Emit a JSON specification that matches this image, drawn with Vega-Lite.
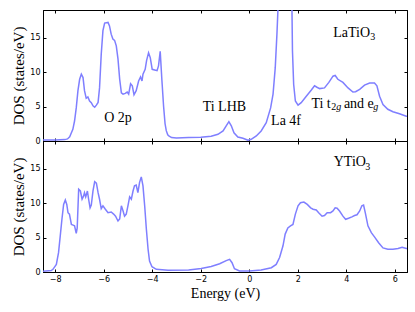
{
  "$schema": "https://vega.github.io/schema/vega-lite/v6.json",
  "background": "white",
  "padding": {"left": 11, "top": 9, "right": 9, "bottom": 5},
  "datasets": {
    "la": [
      {"E": -8.5, "DOS": 0.15}, {"E": -8.0, "DOS": 0.15}, {"E": -7.6, "DOS": 0.2}, {"E": -7.49, "DOS": 0.3},
      {"E": -7.40, "DOS": 0.6}, {"E": -7.27, "DOS": 1.7}, {"E": -7.20, "DOS": 2.9}, {"E": -7.13, "DOS": 4.8},
      {"E": -7.06, "DOS": 7.3}, {"E": -6.99, "DOS": 8.95}, {"E": -6.92, "DOS": 9.7}, {"E": -6.85, "DOS": 9.2},
      {"E": -6.79, "DOS": 7.3}, {"E": -6.72, "DOS": 6.2}, {"E": -6.65, "DOS": 6.4}, {"E": -6.58, "DOS": 5.8},
      {"E": -6.51, "DOS": 5.56}, {"E": -6.44, "DOS": 5.1}, {"E": -6.37, "DOS": 4.9}, {"E": -6.30, "DOS": 5.2},
      {"E": -6.23, "DOS": 5.6}, {"E": -6.17, "DOS": 7.7}, {"E": -6.10, "DOS": 12.6}, {"E": -6.03, "DOS": 16.0},
      {"E": -5.96, "DOS": 17.1}, {"E": -5.82, "DOS": 17.2}, {"E": -5.76, "DOS": 16.7}, {"E": -5.69, "DOS": 15.5},
      {"E": -5.62, "DOS": 14.8}, {"E": -5.55, "DOS": 14.6}, {"E": -5.48, "DOS": 13.8}, {"E": -5.41, "DOS": 11.9},
      {"E": -5.34, "DOS": 8.95}, {"E": -5.27, "DOS": 7.0}, {"E": -5.20, "DOS": 6.8}, {"E": -5.11, "DOS": 6.9},
      {"E": -5.03, "DOS": 7.1}, {"E": -4.97, "DOS": 6.8}, {"E": -4.89, "DOS": 8.3}, {"E": -4.82, "DOS": 8.0},
      {"E": -4.75, "DOS": 6.7}, {"E": -4.66, "DOS": 7.3}, {"E": -4.56, "DOS": 8.7}, {"E": -4.48, "DOS": 9.3},
      {"E": -4.42, "DOS": 8.7}, {"E": -4.38, "DOS": 9.7}, {"E": -4.29, "DOS": 10.4}, {"E": -4.23, "DOS": 11.7},
      {"E": -4.15, "DOS": 12.8}, {"E": -4.08, "DOS": 12.1}, {"E": -4.00, "DOS": 10.4}, {"E": -3.90, "DOS": 10.3},
      {"E": -3.80, "DOS": 10.2}, {"E": -3.74, "DOS": 10.9}, {"E": -3.67, "DOS": 13.0}, {"E": -3.60, "DOS": 8.8},
      {"E": -3.53, "DOS": 5.0}, {"E": -3.47, "DOS": 2.5}, {"E": -3.42, "DOS": 1.5}, {"E": -3.36, "DOS": 0.9},
      {"E": -3.30, "DOS": 0.7}, {"E": -3.20, "DOS": 0.5}, {"E": -3.0, "DOS": 0.45}, {"E": -2.5, "DOS": 0.5},
      {"E": -2.0, "DOS": 0.55}, {"E": -1.57, "DOS": 0.7}, {"E": -1.29, "DOS": 0.97}, {"E": -1.08, "DOS": 1.45},
      {"E": -0.95, "DOS": 2.2}, {"E": -0.84, "DOS": 2.8}, {"E": -0.74, "DOS": 2.2}, {"E": -0.63, "DOS": 1.2},
      {"E": -0.47, "DOS": 0.58}, {"E": -0.26, "DOS": 0.39}, {"E": -0.05, "DOS": 0.1}, {"E": 0.08, "DOS": 0.25},
      {"E": 0.29, "DOS": 0.73}, {"E": 0.49, "DOS": 1.45}, {"E": 0.70, "DOS": 2.66}, {"E": 0.88, "DOS": 4.8},
      {"E": 0.98, "DOS": 6.8}, {"E": 1.07, "DOS": 10.6}, {"E": 1.14, "DOS": 15.5}, {"E": 1.18, "DOS": 18.9},
      {"E": 1.24, "DOS": 26}, {"E": 1.35, "DOS": 38}, {"E": 1.47, "DOS": 42}, {"E": 1.60, "DOS": 38},
      {"E": 1.70, "DOS": 28}, {"E": 1.76, "DOS": 19}, {"E": 1.78, "DOS": 13.1}, {"E": 1.83, "DOS": 8.2},
      {"E": 1.90, "DOS": 5.8}, {"E": 2.01, "DOS": 5.2}, {"E": 2.14, "DOS": 5.56}, {"E": 2.35, "DOS": 6.5},
      {"E": 2.55, "DOS": 7.35}, {"E": 2.69, "DOS": 8.0}, {"E": 2.79, "DOS": 7.8}, {"E": 2.90, "DOS": 7.6},
      {"E": 3.10, "DOS": 7.7}, {"E": 3.28, "DOS": 8.5}, {"E": 3.45, "DOS": 9.4}, {"E": 3.54, "DOS": 9.5},
      {"E": 3.65, "DOS": 8.95}, {"E": 3.86, "DOS": 8.5}, {"E": 4.07, "DOS": 7.7}, {"E": 4.27, "DOS": 7.1},
      {"E": 4.38, "DOS": 7.15}, {"E": 4.55, "DOS": 7.5}, {"E": 4.75, "DOS": 8.1}, {"E": 4.96, "DOS": 8.4},
      {"E": 5.16, "DOS": 8.4}, {"E": 5.26, "DOS": 8.0}, {"E": 5.37, "DOS": 6.5}, {"E": 5.51, "DOS": 5.3},
      {"E": 5.71, "DOS": 4.6}, {"E": 5.92, "DOS": 4.25}, {"E": 6.19, "DOS": 3.96}, {"E": 6.47, "DOS": 3.6},
      {"E": 6.5, "DOS": 3.58}
    ],
    "y": [
      {"E": -8.5, "DOS": 0.12}, {"E": -8.16, "DOS": 0.2}, {"E": -8.09, "DOS": 0.39}, {"E": -7.95, "DOS": 1.1},
      {"E": -7.86, "DOS": 2.8}, {"E": -7.79, "DOS": 5.2}, {"E": -7.72, "DOS": 7.65}, {"E": -7.65, "DOS": 9.8},
      {"E": -7.58, "DOS": 10.45}, {"E": -7.52, "DOS": 9.8}, {"E": -7.47, "DOS": 8.6}, {"E": -7.41, "DOS": 8.4},
      {"E": -7.33, "DOS": 6.9}, {"E": -7.26, "DOS": 6.8}, {"E": -7.20, "DOS": 6.7}, {"E": -7.13, "DOS": 5.6},
      {"E": -7.09, "DOS": 6.4}, {"E": -7.03, "DOS": 12.0}, {"E": -6.96, "DOS": 11.75}, {"E": -6.89, "DOS": 10.55},
      {"E": -6.83, "DOS": 11.0}, {"E": -6.79, "DOS": 11.5}, {"E": -6.74, "DOS": 10.9}, {"E": -6.67, "DOS": 11.75},
      {"E": -6.62, "DOS": 10.55}, {"E": -6.56, "DOS": 9.3}, {"E": -6.51, "DOS": 9.7}, {"E": -6.44, "DOS": 11.75},
      {"E": -6.37, "DOS": 13.1}, {"E": -6.30, "DOS": 12.9}, {"E": -6.23, "DOS": 11.5}, {"E": -6.17, "DOS": 10.55},
      {"E": -6.10, "DOS": 9.2}, {"E": -6.03, "DOS": 9.6}, {"E": -5.93, "DOS": 9.1}, {"E": -5.82, "DOS": 8.6},
      {"E": -5.69, "DOS": 8.7}, {"E": -5.59, "DOS": 8.4}, {"E": -5.51, "DOS": 8.1}, {"E": -5.41, "DOS": 7.4},
      {"E": -5.34, "DOS": 7.7}, {"E": -5.27, "DOS": 9.6}, {"E": -5.20, "DOS": 8.85}, {"E": -5.14, "DOS": 8.1},
      {"E": -5.07, "DOS": 8.4}, {"E": -5.00, "DOS": 9.6}, {"E": -4.93, "DOS": 10.9}, {"E": -4.86, "DOS": 10.55},
      {"E": -4.79, "DOS": 11.75}, {"E": -4.73, "DOS": 12.5}, {"E": -4.66, "DOS": 12.6}, {"E": -4.59, "DOS": 11.5},
      {"E": -4.52, "DOS": 13.0}, {"E": -4.45, "DOS": 13.8}, {"E": -4.38, "DOS": 12.5}, {"E": -4.31, "DOS": 9.6},
      {"E": -4.24, "DOS": 6.2}, {"E": -4.17, "DOS": 3.3}, {"E": -4.11, "DOS": 1.6}, {"E": -4.01, "DOS": 0.77},
      {"E": -3.83, "DOS": 0.39}, {"E": -3.35, "DOS": 0.25}, {"E": -2.5, "DOS": 0.3}, {"E": -1.98, "DOS": 0.5},
      {"E": -1.57, "DOS": 0.8}, {"E": -1.22, "DOS": 1.2}, {"E": -0.95, "DOS": 1.65}, {"E": -0.81, "DOS": 1.84},
      {"E": -0.71, "DOS": 1.35}, {"E": -0.61, "DOS": 0.48}, {"E": -0.40, "DOS": 0.15}, {"E": 0.01, "DOS": 0.15},
      {"E": 0.49, "DOS": 0.29}, {"E": 0.91, "DOS": 0.62}, {"E": 1.11, "DOS": 1.1}, {"E": 1.25, "DOS": 2.1},
      {"E": 1.39, "DOS": 3.8}, {"E": 1.48, "DOS": 5.5}, {"E": 1.59, "DOS": 6.4}, {"E": 1.70, "DOS": 6.7},
      {"E": 1.80, "DOS": 6.9}, {"E": 1.90, "DOS": 8.4}, {"E": 2.01, "DOS": 9.6}, {"E": 2.11, "DOS": 10.05},
      {"E": 2.25, "DOS": 10.15}, {"E": 2.39, "DOS": 9.8}, {"E": 2.53, "DOS": 9.3}, {"E": 2.63, "DOS": 9.1},
      {"E": 2.76, "DOS": 9.0}, {"E": 2.86, "DOS": 8.6}, {"E": 3.00, "DOS": 8.1}, {"E": 3.10, "DOS": 8.2},
      {"E": 3.21, "DOS": 8.6}, {"E": 3.35, "DOS": 8.6}, {"E": 3.45, "DOS": 8.85}, {"E": 3.54, "DOS": 9.3},
      {"E": 3.62, "DOS": 9.25}, {"E": 3.72, "DOS": 8.85}, {"E": 3.86, "DOS": 8.1}, {"E": 3.97, "DOS": 7.65},
      {"E": 4.09, "DOS": 7.8}, {"E": 4.23, "DOS": 8.0}, {"E": 4.34, "DOS": 8.2}, {"E": 4.44, "DOS": 8.3},
      {"E": 4.55, "DOS": 8.85}, {"E": 4.64, "DOS": 9.6}, {"E": 4.71, "DOS": 9.7}, {"E": 4.78, "DOS": 8.6},
      {"E": 4.89, "DOS": 6.7}, {"E": 5.03, "DOS": 5.7}, {"E": 5.16, "DOS": 5.1}, {"E": 5.33, "DOS": 4.25},
      {"E": 5.51, "DOS": 3.5}, {"E": 5.71, "DOS": 3.3}, {"E": 5.92, "DOS": 3.3}, {"E": 6.13, "DOS": 3.4},
      {"E": 6.30, "DOS": 3.6}, {"E": 6.47, "DOS": 3.4}, {"E": 6.5, "DOS": 3.4}
    ],
    "labels": [
      {"panel": "top", "x": -5.98, "y": 3.3, "text": "O 2p"},
      {"panel": "top", "x": -1.92, "y": 4.93, "text": "Ti LHB"},
      {"panel": "top", "x": 0.90, "y": 2.9, "text": "La 4f"},
      {"panel": "top", "x": 3.46, "y": 15.7, "text": "LaTiO"},
      {"panel": "top", "x": 2.56, "y": 5.4, "text": "Ti t"},
      {"panel": "top", "x": 3.90, "y": 5.4, "text": "and e"},
      {"panel": "bottom", "x": 3.48, "y": 15.9, "text": "YTiO"}
    ],
    "subs": [
      {"panel": "top", "x": 4.99, "y": 15.1, "text": "3"},
      {"panel": "top", "x": 3.38, "y": 4.9, "text": "2"},
      {"panel": "bottom", "x": 4.78, "y": 15.3, "text": "3"}
    ],
    "subsi": [
      {"panel": "top", "x": 3.58, "y": 4.9, "text": "g"},
      {"panel": "top", "x": 5.11, "y": 4.9, "text": "g"}
    ]
  },
  "vconcat": [
    {
      "width": 364,
      "height": 131,
      "layer": [
        {
          "data": {"name": "la"},
          "mark": {"type": "line", "clip": true, "stroke": "#7f7fff", "strokeWidth": 1.5},
          "encoding": {
            "x": {"field": "E", "type": "quantitative", "scale": {"domain": [-8.5, 6.5], "nice": false, "zero": false},
                  "axis": {"orient": "bottom", "values": [-8, -6, -4, -2, 0, 2, 4, 6], "labels": false, "title": null}},
            "y": {"field": "DOS", "type": "quantitative", "scale": {"domain": [0, 19], "nice": false, "zero": false},
                  "axis": {"orient": "left", "values": [0, 5, 10, 15], "title": "DOS (states/eV)",
                           "titleFont": "Liberation Serif", "titleFontSize": 15, "titleFontWeight": "normal", "titleColor": "black", "titlePadding": 3}}
          }
        },
        {
          "data": {"name": "labels"},
          "transform": [{"filter": "datum.panel == 'top'"}],
          "mark": {"type": "text", "align": "left", "baseline": "middle", "font": "Liberation Serif", "fontSize": 14, "color": "black"},
          "encoding": {
            "x": {"field": "x", "type": "quantitative",
                  "axis": {"orient": "top", "values": [-8, -6, -4, -2, 0, 2, 4, 6], "labels": false, "title": null}},
            "y": {"field": "y", "type": "quantitative",
                  "axis": {"orient": "right", "values": [0, 5, 10, 15], "labels": false, "title": null}},
            "text": {"field": "text"}
          }
        },
        {
          "data": {"name": "subs"},
          "transform": [{"filter": "datum.panel == 'top'"}],
          "mark": {"type": "text", "align": "left", "baseline": "middle", "font": "Liberation Serif", "fontSize": 10, "color": "black"},
          "encoding": {
            "x": {"field": "x", "type": "quantitative", "axis": null},
            "y": {"field": "y", "type": "quantitative", "axis": null},
            "text": {"field": "text"}
          }
        },
        {
          "data": {"name": "subsi"},
          "transform": [{"filter": "datum.panel == 'top'"}],
          "mark": {"type": "text", "align": "left", "baseline": "middle", "font": "Liberation Serif", "fontSize": 10, "fontStyle": "italic", "color": "black"},
          "encoding": {
            "x": {"field": "x", "type": "quantitative", "axis": null},
            "y": {"field": "y", "type": "quantitative", "axis": null},
            "text": {"field": "text"}
          }
        }
      ],
      "resolve": {"axis": {"x": "independent", "y": "independent"}}
    },
    {
      "width": 364,
      "height": 131,
      "layer": [
        {
          "data": {"name": "y"},
          "mark": {"type": "line", "clip": true, "stroke": "#7f7fff", "strokeWidth": 1.5},
          "encoding": {
            "x": {"field": "E", "type": "quantitative", "scale": {"domain": [-8.5, 6.5], "nice": false, "zero": false},
                  "axis": {"orient": "bottom", "values": [-8, -6, -4, -2, 0, 2, 4, 6], "title": "Energy (eV)",
                           "titleFont": "Liberation Serif", "titleFontSize": 14, "titleFontWeight": "normal", "titleColor": "black", "titlePadding": 3}},
            "y": {"field": "DOS", "type": "quantitative", "scale": {"domain": [0, 19], "nice": false, "zero": false},
                  "axis": {"orient": "left", "values": [0, 5, 10, 15], "title": "DOS (states/eV)",
                           "titleFont": "Liberation Serif", "titleFontSize": 15, "titleFontWeight": "normal", "titleColor": "black", "titlePadding": 3}}
          }
        },
        {
          "data": {"name": "labels"},
          "transform": [{"filter": "datum.panel == 'bottom'"}],
          "mark": {"type": "text", "align": "left", "baseline": "middle", "font": "Liberation Serif", "fontSize": 14, "color": "black"},
          "encoding": {
            "x": {"field": "x", "type": "quantitative",
                  "axis": {"orient": "top", "values": [-8, -6, -4, -2, 0, 2, 4, 6], "labels": false, "title": null}},
            "y": {"field": "y", "type": "quantitative",
                  "axis": {"orient": "right", "values": [0, 5, 10, 15], "labels": false, "title": null}},
            "text": {"field": "text"}
          }
        },
        {
          "data": {"name": "subs"},
          "transform": [{"filter": "datum.panel == 'bottom'"}],
          "mark": {"type": "text", "align": "left", "baseline": "middle", "font": "Liberation Serif", "fontSize": 10, "color": "black"},
          "encoding": {
            "x": {"field": "x", "type": "quantitative", "axis": null},
            "y": {"field": "y", "type": "quantitative", "axis": null},
            "text": {"field": "text"}
          }
        }
      ],
      "resolve": {"axis": {"x": "independent", "y": "independent"}}
    }
  ],
  "spacing": 0,
  "bounds": "flush",
  "config": {
    "view": {"stroke": "black", "strokeWidth": 1},
    "axis": {
      "grid": false,
      "domainColor": "black",
      "tickColor": "black",
      "tickSize": -3,
      "labelPadding": 6,
      "labelFont": "DejaVu Sans",
      "labelFontSize": 8,
      "labelColor": "black",
      "titleFont": "Liberation Serif",
      "titleFontWeight": "normal"
    }
  }
}
